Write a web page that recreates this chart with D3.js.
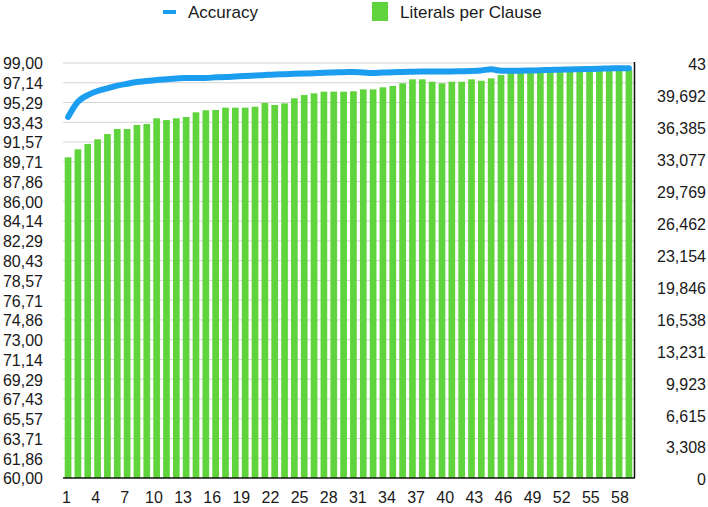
<!DOCTYPE html>
<html>
  <head>
    <title>Accuracy and Literals per Clause</title>
    <script src="https://d3js.org/d3.v7.min.js"></script>
    <style>
      body { margin: 0; background: #fff; }
      text {
        font-family: "Liberation Sans", Arial, sans-serif;
        fill: #1a1a1a;
      }
      .tick-label { font-size: 16px; }
      .legend text { font-size: 17px; }
      .grid line { stroke: #d4d4d4; stroke-width: 1; }
    </style>
  </head>
  <body>
    <svg width="708" height="507"></svg>
    <script>
      const categories = d3.range(1, 59);

      const accuracy = [
        93.93, 95.36, 95.99, 96.37, 96.62, 96.87, 97.05, 97.21, 97.31, 97.40,
        97.47, 97.54, 97.59, 97.59, 97.59, 97.66, 97.68, 97.73, 97.78, 97.82,
        97.87, 97.92, 97.95, 97.98, 98.01, 98.04, 98.08, 98.11, 98.13, 98.16,
        98.11, 98.06, 98.11, 98.14, 98.16, 98.18, 98.19, 98.19, 98.19, 98.21,
        98.23, 98.25, 98.30, 98.41, 98.28, 98.28, 98.28, 98.30, 98.32, 98.35,
        98.37, 98.40, 98.41, 98.44, 98.46, 98.49, 98.51, 98.51
      ];

      const literals = [
        33.23, 34.06, 34.61, 35.09, 35.64, 36.16, 36.16, 36.58, 36.68, 37.27,
        37.09, 37.27, 37.40, 37.89, 38.10, 38.13, 38.37, 38.37, 38.37, 38.47,
        38.86, 38.65, 38.82, 39.34, 39.68, 39.86, 40.03, 40.03, 40.03, 40.07,
        40.27, 40.27, 40.48, 40.62, 40.90, 41.31, 41.31, 41.06, 40.90, 41.06,
        41.06, 41.31, 41.16, 41.41, 41.75, 42.10, 42.15, 42.10, 42.20, 42.15,
        42.20, 42.20, 42.25, 42.20, 42.25, 42.30, 42.25, 42.30
      ];

      const leftTickLabels = [
        "60,00", "61,86", "63,71", "65,57", "67,43", "69,29", "71,14", "73,00",
        "74,86", "76,71", "78,57", "80,43", "82,29", "84,14", "86,00", "87,86",
        "89,71", "91,57", "93,43", "95,29", "97,14", "99,00"
      ];
      const rightTickLabels = [
        "0", "3,308", "6,615", "9,923", "13,231", "16,538", "19,846",
        "23,154", "26,462", "29,769", "33,077", "36,385", "39,692", "43"
      ];
      const xTickLabels = [1, 4, 7, 10, 13, 16, 19, 22, 25, 28, 31, 34, 37, 40, 43, 46, 49, 52, 55, 58];

      const plotLeft = 63, plotRight = 634, plotTop = 63, plotBottom = 478;
      const blue = "#1c9ef0";
      const green = "#5fd43c";

      const svg = d3.select("svg");

      const x = d3.scaleBand()
        .domain(categories)
        .range([plotLeft, plotRight])
        .paddingInner(0.32)
        .paddingOuter(0.175);

      const xLabel = d3.scalePoint()
        .domain(categories)
        .range([66.5, 620]);

      const yLeft = d3.scaleLinear().domain([60, 99]).range([plotBottom, plotTop]);
      const yRight = d3.scaleLinear().domain([0, 43]).range([plotBottom, plotTop]);

      const leftValues = leftTickLabels.map((d, i) => 60 + i * 39 / (leftTickLabels.length - 1));
      const rightValues = rightTickLabels.map((d, i) => i * 43 / (rightTickLabels.length - 1));

      // grid
      svg.append("g")
        .attr("class", "grid")
        .selectAll("line")
        .data(leftValues.slice(1))
        .enter().append("line")
          .attr("x1", plotLeft)
          .attr("x2", plotRight)
          .attr("y1", d => yLeft(d))
          .attr("y2", d => yLeft(d));

      // bars
      svg.append("g")
        .selectAll("rect")
        .data(literals)
        .enter().append("rect")
          .attr("x", (d, i) => x(categories[i]))
          .attr("width", x.bandwidth())
          .attr("y", d => yRight(d))
          .attr("height", d => plotBottom - yRight(d))
          .attr("fill", green);

      // accuracy line
      const line = d3.line()
        .x((d, i) => x(categories[i]) + x.bandwidth() / 2)
        .y(d => yLeft(d))
        .curve(d3.curveMonotoneX);

      svg.append("path")
        .datum(accuracy)
        .attr("d", line)
        .attr("fill", "none")
        .attr("stroke", blue)
        .attr("stroke-width", 6)
        .attr("stroke-linecap", "round");

      // axis lines
      svg.append("line")
        .attr("x1", plotLeft).attr("x2", plotRight + 1)
        .attr("y1", plotBottom).attr("y2", plotBottom)
        .attr("stroke", "#111").attr("stroke-width", 1.5);
      svg.append("line")
        .attr("x1", plotRight + 0.5).attr("x2", plotRight + 0.5)
        .attr("y1", plotTop - 1).attr("y2", plotBottom)
        .attr("stroke", "#111").attr("stroke-width", 1.5);

      // left labels
      svg.append("g")
        .selectAll("text")
        .data(leftTickLabels)
        .enter().append("text")
          .attr("class", "tick-label")
          .attr("x", 43)
          .attr("y", (d, i) => yLeft(leftValues[i]))
          .attr("dy", "0.4em")
          .attr("text-anchor", "end")
          .text(d => d);

      // right labels
      svg.append("g")
        .selectAll("text")
        .data(rightTickLabels)
        .enter().append("text")
          .attr("class", "tick-label")
          .attr("x", 706)
          .attr("y", (d, i) => yRight(rightValues[i]) + 1)
          .attr("dy", "0.4em")
          .attr("text-anchor", "end")
          .text(d => d);

      // x labels
      svg.append("g")
        .selectAll("text")
        .data(xTickLabels)
        .enter().append("text")
          .attr("class", "tick-label")
          .attr("x", d => xLabel(d))
          .attr("y", 503)
          .attr("text-anchor", "middle")
          .text(d => d);

      // legend
      const legend = svg.append("g").attr("class", "legend");
      legend.append("line")
        .attr("x1", 163).attr("x2", 176)
        .attr("y1", 12).attr("y2", 12)
        .attr("stroke", blue).attr("stroke-width", 4);
      legend.append("text")
        .attr("x", 188).attr("y", 18)
        .text("Accuracy");
      legend.append("rect")
        .attr("x", 372).attr("y", 2)
        .attr("width", 16).attr("height", 19)
        .attr("fill", green);
      legend.append("text")
        .attr("x", 400).attr("y", 18)
        .text("Literals per Clause");
    </script>
  </body>
</html>
